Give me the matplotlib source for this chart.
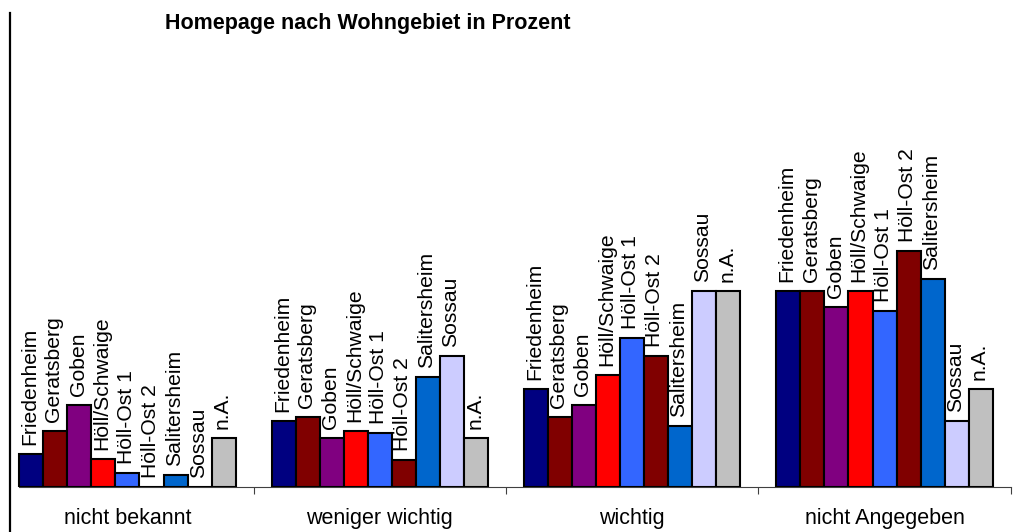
import matplotlib
matplotlib.use('Agg')
import matplotlib.pyplot as plt
from matplotlib.lines import Line2D
import numpy as np

plt.rcParams['font.family'] = ['Liberation Sans', 'DejaVu Sans']

### Data: share of answers per residential area, in percent
categories = ['nicht bekannt', 'weniger wichtig', 'wichtig', 'nicht Angegeben']
areas = ['Friedenheim', 'Geratsberg', 'Goben', 'Höll/Schwaige', 'Höll-Ost 1',
         'Höll-Ost 2', 'Salitersheim', 'Sossau', 'n.A.']
values = {
  'Friedenheim':   [8.3, 16.7, 25.0, 50.0],
  'Geratsberg':    [14.3, 17.9, 17.9, 50.0],
  'Goben':         [20.8, 12.5, 20.8, 45.8],
  'Höll/Schwaige': [7.1, 14.3, 28.6, 50.0],
  'Höll-Ost 1':    [3.4, 13.8, 37.9, 44.8],
  'Höll-Ost 2':    [0.0, 6.7, 33.3, 60.0],
  'Salitersheim':  [3.1, 28.1, 15.6, 53.1],
  'Sossau':        [0.0, 33.3, 50.0, 16.7],
  'n.A.':          [12.5, 12.5, 50.0, 25.0],
}
colors = ['#000080', '#800000', '#800080', '#FF0000', '#3366FF',
          '#800000', '#0066CC', '#CCCCFF', '#C0C0C0']
title = 'Homepage nach Wohngebiet in Prozent'

fig = plt.figure(figsize=(10.22, 5.32), dpi=100)
W, H = 1022.0, 532.0
ax = fig.add_axes([1.3 / W, 45.3 / H, 1009.4 / W, 470.4 / H])

n = len(areas)
width = 1.0 / (n + 1.5)
x = np.arange(len(categories))

for k, area in enumerate(areas):
  pos = x + (k - (n - 1) / 2.0) * width
  ax.bar(pos, values[area], width, color=colors[k], edgecolor='black',
         linewidth=1.5, zorder=3)
  for px, v in zip(pos, values[area]):
    ax.annotate(area, (px, v), xytext=(-1, 6.5), textcoords='offset points',
                rotation=90, ha='center', va='bottom', fontsize=15.2)

ax.set_xlim(-0.5, len(categories) - 0.5)
ax.set_ylim(0, 120)

### Axes: only the category axis is shown
for side in ['left', 'right', 'top']:
  ax.spines[side].set_visible(False)
ax.spines['bottom'].set_color('#404040')
ax.spines['bottom'].set_linewidth(0.8)
ax.spines['bottom'].set_bounds(-0.5 + 0.75 * width, len(categories) - 0.5)
ax.set_yticks([])
ax.set_xticks(np.append(x[1:] - 0.5, len(categories) - 0.5))
ax.set_xticklabels([])
ax.tick_params(axis='x', which='major', direction='out', length=5,
               width=0.8, color='#404040')
ax.set_xticks(x, minor=True)
ax.set_xticklabels(categories, minor=True, fontsize=15.5)
ax.tick_params(axis='x', which='minor', length=0, pad=15.5)

fig.text(165 / W, 1 - 29 / H, title, fontsize=15.5, fontweight='bold',
         ha='left', va='baseline')

### Border line on the left side of the page
fig.add_artist(Line2D([9.5 / W, 9.5 / W], [0, 1 - 13 / H], color='black',
                      linewidth=1.6))

plt.savefig('out.png', dpi=100)
